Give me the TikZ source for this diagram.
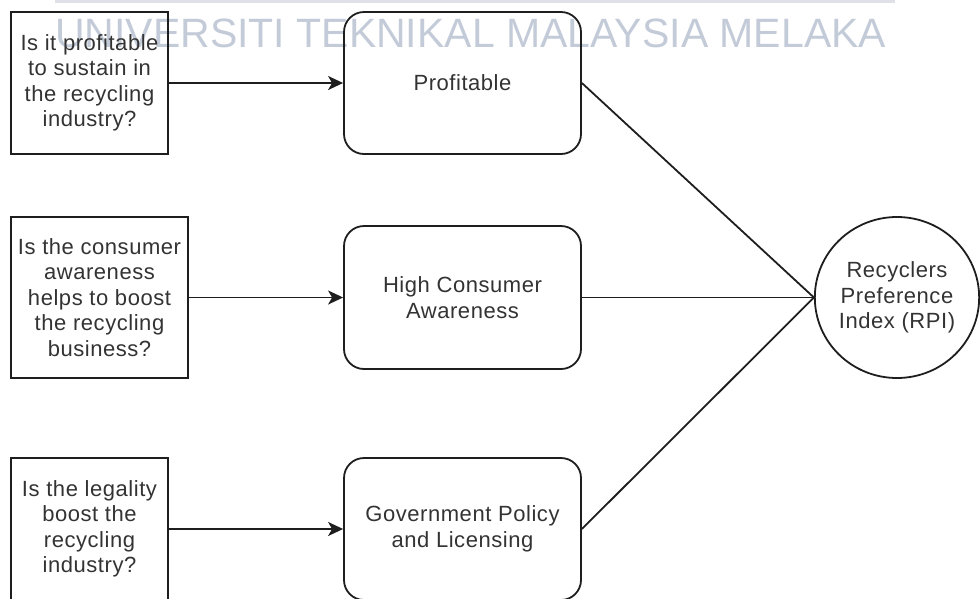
\documentclass[tikz,border=0pt]{standalone}
\usepackage{fontspec}
\setmainfont{Liberation Sans}
\newfontfamily\labelfont[LetterSpace=2.5]{Liberation Sans}
\usetikzlibrary{arrows.meta,shapes.geometric}

\definecolor{ink}{HTML}{1E1E1E}
\definecolor{txt}{HTML}{333333}
\definecolor{markgrey}{RGB}{196,203,216}
\definecolor{bandgrey}{RGB}{222,225,232}

\begin{document}
\begin{tikzpicture}[x=1pt,y=-1pt,
  lbl/.style={align=center, inner sep=0pt, text=txt,
    font=\labelfont\fontsize{22}{25.5}\selectfont},
  qbox/.style={lbl, draw=ink, line width=1.8pt, rectangle},
  fbox/.style={lbl, draw=ink, line width=1.8pt, rectangle,
    rounded corners=20pt, minimum width=237pt},
  rpinode/.style={lbl, draw=ink, line width=1.8pt, ellipse,
    minimum width=164pt, minimum height=161pt},
  conn/.style={draw=ink, line width=1.8pt},
  arr/.style={conn, -{Stealth[length=15pt,width=14pt,inset=4pt]}}]

\useasboundingbox (0,0) rectangle (980,598);
\clip (0,0) rectangle (980,598);

% header band and institution name
\fill[bandgrey] (55,0) rectangle (895,3);
\node[anchor=base west, inner sep=0pt, text=markgrey,
  font=\fontsize{41}{41}\selectfont] (inst) at (55,47)
  {UNIVERSITI TEKNIKAL MALAYSIA MELAKA};

% question boxes
\node[qbox, minimum width=157pt, minimum height=142pt] (q1) at (89.5,83)
  {Is it profitable\\to sustain in\\the recycling\\industry?};
\node[qbox, minimum width=177pt, minimum height=161pt] (q2) at (99.5,297.5)
  {Is the consumer\\awareness\\helps to boost\\the recycling\\business?};
\node[qbox, minimum width=157pt, minimum height=142pt] (q3) at (89.5,529)
  {Is the legality\\boost the\\recycling\\industry?};

% factor boxes
\node[fbox, minimum height=142pt] (f1) at (462.5,83) {Profitable};
\node[fbox, minimum height=143pt] (f2) at (462.5,297.5) {High Consumer\\Awareness};
\node[fbox, minimum height=142pt] (f3) at (462.5,529) {Government Policy\\and Licensing};

% index
\node[rpinode] (rpi) at (897,297.5) {Recyclers\\Preference\\Index (RPI)};

% connectors
\draw[arr] (q1) -- (f1);
\draw[arr] (q2) -- (f2);
\draw[arr] (q3) -- (f3);
\draw[conn] (f1.east) -- (rpi.west);
\draw[conn] (f2.east) -- (rpi.west);
\draw[conn] (f3.east) -- (rpi.west);
\end{tikzpicture}
\end{document}
